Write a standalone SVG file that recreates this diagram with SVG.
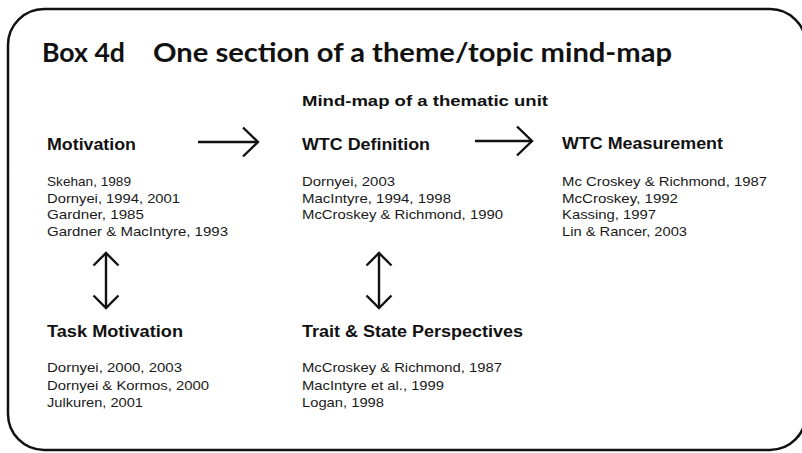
<svg xmlns="http://www.w3.org/2000/svg" width="802" height="453" viewBox="0 0 802 453">
<style>
.title{font-family:Lato,"Open Sans","Liberation Sans",sans-serif;font-weight:700;font-size:26px;fill:#111}
.sub{font-family:"Liberation Sans",Arial,sans-serif;font-weight:700;font-size:15px;fill:#111}
.head{font-family:"Liberation Sans",Arial,sans-serif;font-weight:700;font-size:16px;fill:#111}
.body{font-family:"Liberation Sans",Arial,sans-serif;font-size:13.5px;fill:#1a1a1a}
.frame{fill:#fff;stroke:#111;stroke-width:2.5}
.conn{stroke:#111;stroke-width:2.4;fill:none}
</style>
<defs>
<marker id="hh" markerUnits="userSpaceOnUse" viewBox="0 0 18 32" refX="16.5" refY="16" markerWidth="18" markerHeight="32" orient="auto-start-reverse">
<path d="M1.5,1.5 L16.5,16 L1.5,30.5" fill="none" stroke="#111" stroke-width="2.4"/>
</marker>
<marker id="vh" markerUnits="userSpaceOnUse" viewBox="0 0 16 28" refX="14" refY="14" markerWidth="16" markerHeight="28" orient="auto-start-reverse">
<path d="M1.5,1.5 L14,14 L1.5,26.5" fill="none" stroke="#111" stroke-width="2.4"/>
</marker>
</defs>
<rect width="802" height="453" fill="#fff"/>
<rect class="frame" x="8" y="9" width="798" height="441" rx="36" ry="36"/>
<g id="title">
<text class="title" x="42" y="62" textLength="83" lengthAdjust="spacingAndGlyphs">Box 4d</text>
<text class="title" x="153" y="62" textLength="519" lengthAdjust="spacingAndGlyphs">One section of a theme/topic mind-map</text>
</g>
<g id="subtitle">
<text class="sub" x="302" y="106" textLength="246" lengthAdjust="spacingAndGlyphs">Mind-map of a thematic unit</text>
</g>
<g id="connectors">
<line class="conn" x1="198" y1="142" x2="258" y2="142" marker-end="url(#hh)"/>
<line class="conn" x1="475" y1="141" x2="532" y2="141" marker-end="url(#hh)"/>
<line class="conn" x1="106" y1="253" x2="106" y2="308" marker-start="url(#vh)" marker-end="url(#vh)"/>
<line class="conn" x1="379" y1="253" x2="379" y2="308" marker-start="url(#vh)" marker-end="url(#vh)"/>
</g>
<g id="motivation">
<text class="head" x="47" y="150" textLength="89" lengthAdjust="spacingAndGlyphs">Motivation</text>
<text class="body" x="47" y="186" textLength="84" lengthAdjust="spacingAndGlyphs">Skehan, 1989</text>
<text class="body" x="47" y="202.5" textLength="133" lengthAdjust="spacingAndGlyphs">Dornyei, 1994, 2001</text>
<text class="body" x="47" y="219" textLength="97" lengthAdjust="spacingAndGlyphs">Gardner, 1985</text>
<text class="body" x="47" y="235.5" textLength="181" lengthAdjust="spacingAndGlyphs">Gardner &amp; MacIntyre, 1993</text>
</g>
<g id="wtc-definition">
<text class="head" x="302" y="150" textLength="128" lengthAdjust="spacingAndGlyphs">WTC Definition</text>
<text class="body" x="302" y="186" textLength="93" lengthAdjust="spacingAndGlyphs">Dornyei, 2003</text>
<text class="body" x="302" y="202.5" textLength="149" lengthAdjust="spacingAndGlyphs">MacIntyre, 1994, 1998</text>
<text class="body" x="302" y="219" textLength="201" lengthAdjust="spacingAndGlyphs">McCroskey &amp; Richmond, 1990</text>
</g>
<g id="wtc-measurement">
<text class="head" x="562" y="149" textLength="161" lengthAdjust="spacingAndGlyphs">WTC Measurement</text>
<text class="body" x="562" y="186" textLength="205" lengthAdjust="spacingAndGlyphs">Mc Croskey &amp; Richmond, 1987</text>
<text class="body" x="562" y="202.5" textLength="116" lengthAdjust="spacingAndGlyphs">McCroskey, 1992</text>
<text class="body" x="562" y="219" textLength="94" lengthAdjust="spacingAndGlyphs">Kassing, 1997</text>
<text class="body" x="562" y="235.5" textLength="125" lengthAdjust="spacingAndGlyphs">Lin &amp; Rancer, 2003</text>
</g>
<g id="task-motivation">
<text class="head" x="47" y="337" textLength="136" lengthAdjust="spacingAndGlyphs">Task Motivation</text>
<text class="body" x="47" y="372" textLength="135" lengthAdjust="spacingAndGlyphs">Dornyei, 2000, 2003</text>
<text class="body" x="47" y="389.5" textLength="162" lengthAdjust="spacingAndGlyphs">Dornyei &amp; Kormos, 2000</text>
<text class="body" x="47" y="407" textLength="96" lengthAdjust="spacingAndGlyphs">Julkuren, 2001</text>
</g>
<g id="trait-state">
<text class="head" x="302" y="337" textLength="221" lengthAdjust="spacingAndGlyphs">Trait &amp; State Perspectives</text>
<text class="body" x="302" y="372" textLength="200" lengthAdjust="spacingAndGlyphs">McCroskey &amp; Richmond, 1987</text>
<text class="body" x="302" y="389.5" textLength="142" lengthAdjust="spacingAndGlyphs">MacIntyre et al., 1999</text>
<text class="body" x="302" y="407" textLength="82" lengthAdjust="spacingAndGlyphs">Logan, 1998</text>
</g>
</svg>
